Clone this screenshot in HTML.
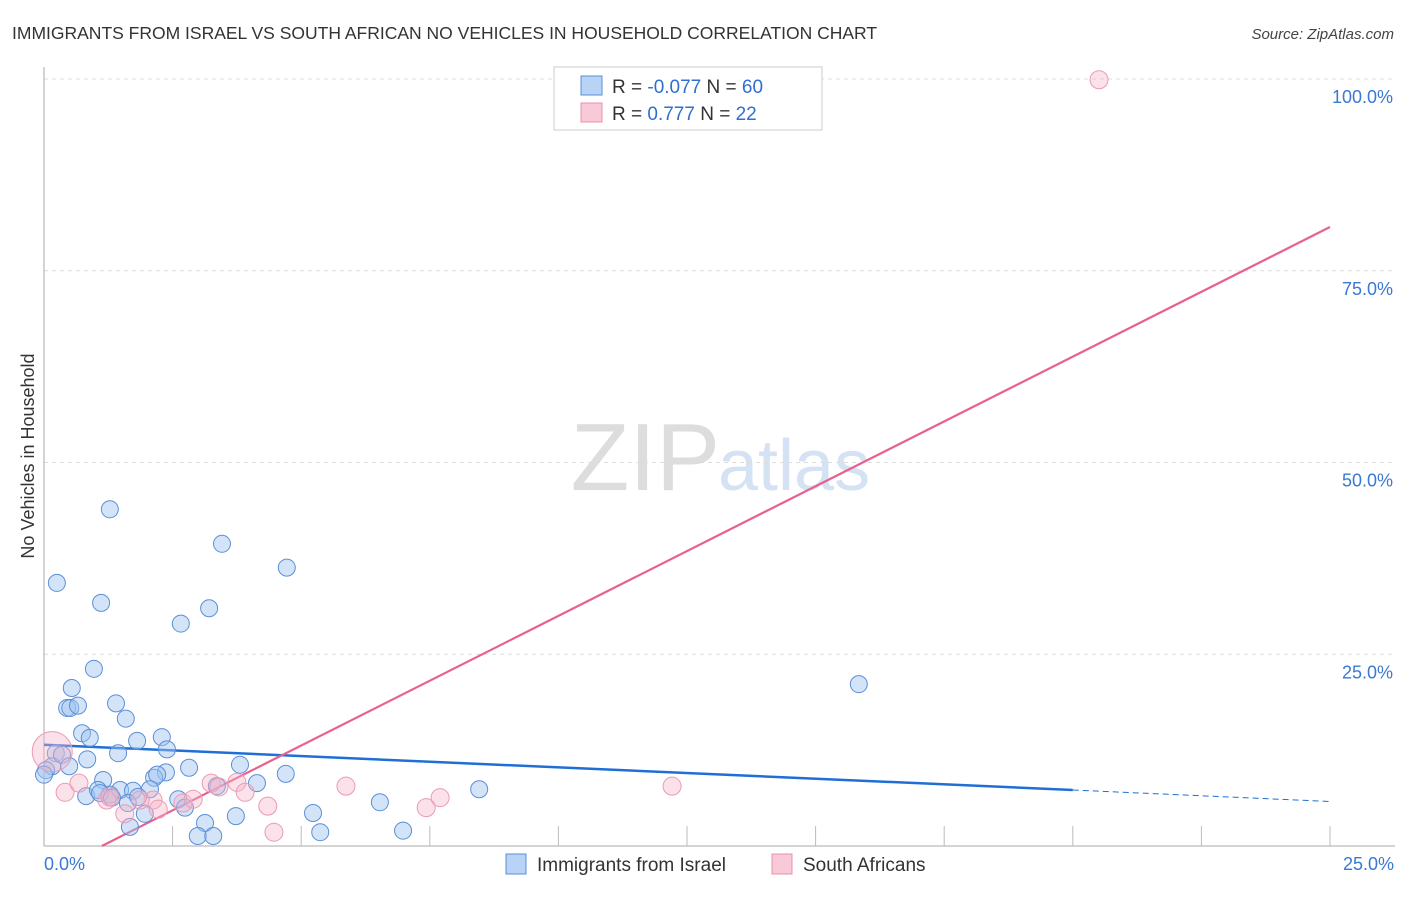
<!DOCTYPE html>
<html><head><meta charset="utf-8"><style>
body{margin:0;background:#fff;font-family:"Liberation Sans",sans-serif;}
svg text{font-family:"Liberation Sans",sans-serif;}
</style></head><body>
<svg id="chart" width="1406" height="892" viewBox="0 0 1406 892" xmlns="http://www.w3.org/2000/svg">
<text x="12" y="39" font-size="17.5" fill="#333">IMMIGRANTS FROM ISRAEL VS SOUTH AFRICAN NO VEHICLES IN HOUSEHOLD CORRELATION CHART</text>
<text x="1394" y="39" font-size="15" fill="#444" font-style="italic" text-anchor="end">Source: ZipAtlas.com</text>
<text x="720" y="490" font-size="96" fill="#ddd" text-anchor="end" font-family="Liberation Serif">ZIP</text>
<text x="718" y="490" font-size="72" fill="#d4e2f4">atlas</text>
<text transform="translate(34,456) rotate(-90)" font-size="18" fill="#333" text-anchor="middle">No Vehicles in Household</text>
<g id="grid"></g><g id="axes"></g><g id="lines"></g><g id="points"></g>
<g>
<rect x="554" y="67" width="268" height="63" fill="#fff" stroke="#ccc"/>
<rect x="581" y="76" width="21" height="19" fill="#b8d3f5" stroke="#5b8fd8"/>
<rect x="581" y="103" width="21" height="19" fill="#f9c9d8" stroke="#e890aa"/>
<text x="612" y="93" font-size="19" fill="#333">R = <tspan fill="#2f6fd0">-0.077</tspan>   N = <tspan fill="#2f6fd0">60</tspan></text>
<text x="612" y="120" font-size="19" fill="#333">R =   <tspan fill="#2f6fd0">0.777</tspan>   N =  <tspan fill="#2f6fd0">22</tspan></text>
</g>
<g>
<rect x="506" y="854" width="20" height="20" fill="#b8d3f5" stroke="#5b8fd8"/>
<text x="537" y="871" font-size="19" fill="#333">Immigrants from Israel</text>
<rect x="772" y="854" width="20" height="20" fill="#f9c9d8" stroke="#e890aa"/>
<text x="803" y="871" font-size="19" fill="#333">South Africans</text>
</g>
</svg>
<script>
const blueX=[1.28,0.25,1.11,3.46,4.72,2.66,3.21,0.97,0.54,0.45,0.51,0.66,1.40,1.59,0.74,0.89,1.81,2.29,2.39,1.44,0.84,0.23,0.16,0.04,0.0,2.82,2.37,2.14,2.20,3.81,4.70,3.36,4.14,1.15,1.48,1.73,2.06,1.28,0.82,1.05,2.61,2.74,1.63,1.83,1.96,3.73,3.13,2.99,3.29,1.67,5.23,5.37,6.53,6.98,8.46,15.84,0.35,0.49,1.09,1.32];
const blueY=[43.9,34.3,31.7,39.4,36.3,29.0,31.0,23.1,20.6,18.0,18.0,18.3,18.6,16.6,14.7,14.1,13.7,14.2,12.6,12.1,11.3,12.1,10.4,9.9,9.3,10.2,9.6,8.9,9.3,10.6,9.4,7.8,8.2,8.6,7.3,7.2,7.4,6.7,6.5,7.3,6.1,5.0,5.6,6.4,4.2,3.9,3.0,1.3,1.3,2.5,4.3,1.8,5.7,2.0,7.4,21.1,11.9,10.4,6.9,6.3];
const pinkX=[20.51,0.16,0.41,0.68,1.22,1.57,2.12,2.22,2.70,2.90,3.25,3.40,3.75,3.91,4.35,4.47,5.87,7.43,7.70,12.21,1.28,1.87];
const pinkY=[99.9,12.3,7.0,8.2,6.0,4.2,6.0,4.8,5.6,6.1,8.2,7.7,8.3,7.0,5.2,1.8,7.8,5.0,6.3,7.8,6.4,6.0];
const pinkR=[9,20,9,9,9,9,9,9,9,9,9,9,9,9,9,9,9,9,9,9,9,9];
const yTicks=[25,50,75,100];
const xTicks=[0,2.5,5,7.5,10,12.5,15,17.5,20,22.5,25];
const blueTrend=[13.2,7.3,5.8];   // at x=0, 20, 25
const pinkTrend=[-3.8,80.7];      // at x=0, 25
const NS="http://www.w3.org/2000/svg";
const sx=v=>44+v/25*1286;
const sy=v=>846-v/100*767;
function mk(tag,attrs,parent){const e=document.createElementNS(NS,tag);for(const k in attrs)e.setAttribute(k,attrs[k]);document.getElementById(parent).appendChild(e);return e;}
yTicks.forEach(t=>{
  const l=mk('line',{x1:44,x2:1395,y1:sy(t),y2:sy(t),stroke:'#ddd','stroke-dasharray':'4,4'},'grid');
  
  
  const tx=mk('text',{x:1393,y:sy(t)+24,'font-size':18,fill:'#3a78d4','text-anchor':'end'},'grid');
  tx.textContent=(t.toFixed(1))+'%';
  
  
});
const ya=mk('line',{x1:44,x2:44,y1:67,y2:846,stroke:'#aaa'},'axes');


const xa=mk('line',{x1:44,x2:1395,y1:846,y2:846,stroke:'#aaa'},'axes');


xTicks.forEach(t=>{if(t===0)return;
  const l=mk('line',{x1:sx(t),x2:sx(t),y1:826,y2:846,stroke:'#bbb'},'axes');
  
  
});
[[0,'0.0%','start',44],[25,'25.0%','end',1394]].forEach(a=>{
  const tx=mk('text',{x:a[3],y:870,'font-size':18,fill:'#3a78d4','text-anchor':a[2]},'axes');
  tx.textContent=a[1];
  
  
});
blueX.forEach((x,i)=>{
  const c=mk('circle',{cx:sx(x),cy:sy(blueY[i]),r:8.5,fill:'rgba(160,196,240,0.45)',stroke:'#5b8fd8','stroke-width':1},'points');
  
  
});
pinkX.forEach((x,i)=>{
  const c=mk('circle',{cx:sx(x),cy:sy(pinkY[i]),r:pinkR[i],fill:'rgba(245,180,200,0.4)',stroke:'#eb9ab2','stroke-width':1},'points');
  
  
});
const bl=mk('line',{x1:sx(0),y1:sy(blueTrend[0]),x2:sx(20),y2:sy(blueTrend[1]),stroke:'#1f6fd6','stroke-width':2.5},'lines');


const bd=mk('line',{x1:sx(20),y1:sy(blueTrend[1]),x2:sx(25),y2:sy(blueTrend[2]),stroke:'#1f6fd6','stroke-width':1,'stroke-dasharray':'6,4'},'lines');


const t0=-pinkTrend[0]/(pinkTrend[1]-pinkTrend[0])*25;
const pl=mk('line',{x1:sx(t0),y1:sy(0),x2:sx(25),y2:sy(pinkTrend[1]),stroke:'#e8608e','stroke-width':2.2},'lines');


</script>
</body></html>
